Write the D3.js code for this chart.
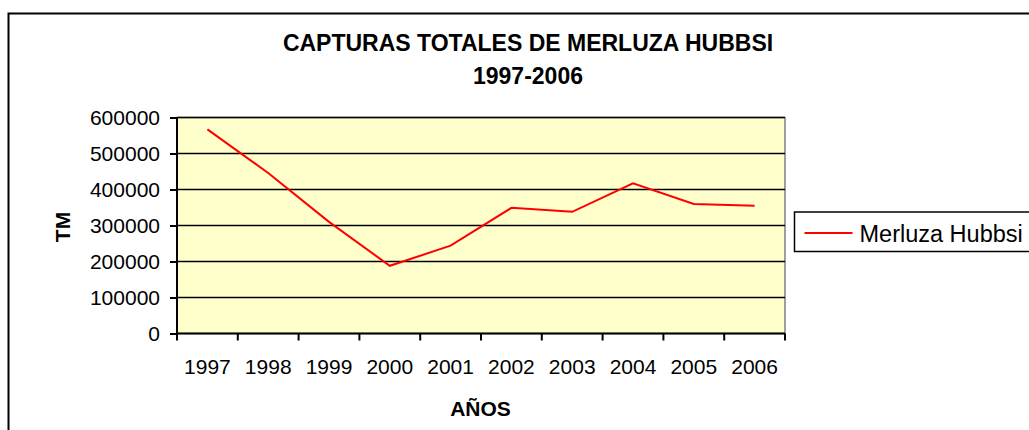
<!DOCTYPE html>
<meta charset="utf-8">
<style>
body { margin: 0; background: #fff; }
text { font-family: "Liberation Sans", Arial, sans-serif; fill: #000; }
.title { font-weight: bold; font-size: 23px; }
.tick text { font-size: 21px; }
.axis-label { font-weight: bold; font-size: 21px; }
.line { fill: none; stroke: #ff0000; stroke-width: 2px; }
</style>
<body>
<svg width="1029" height="430"></svg>
<script src="https://d3js.org/d3.v7.min.js"></script>
<script>

var years = ["1997", "1998", "1999", "2000", "2001", "2002", "2003", "2004", "2005", "2006"];
var capturas = [567000, 446000, 310000, 188000, 244000, 349000, 338000, 417000, 360000, 355000];
var yTicks = [0, 100000, 200000, 300000, 400000, 500000, 600000];
var seriesName = "Merluza Hubbsi";

var svg = d3.select("svg"),
    margin = {top: 117.5, left: 177, right: 244, bottom: 96.5},
    width = 1029 - margin.left - margin.right,
    height = 430 - margin.top - margin.bottom;

// marco exterior
svg.append("rect")
    .attr("x", 8.5).attr("y", 13.5)
    .attr("width", 1040).attr("height", 440)
    .attr("fill", "#fff")
    .attr("stroke", "#000").attr("stroke-width", 2);

var x = d3.scaleBand().domain(years).range([0, width]);
var y = d3.scaleLinear().domain([0, 600000]).range([height, 0]);

var g = svg.append("g")
    .attr("transform", "translate(" + margin.left + "," + margin.top + ")");

g.append("rect")
    .attr("width", width).attr("height", height)
    .attr("fill", "#ffffcc")
    .attr("stroke", "#808080").attr("stroke-width", 1.5);

// lineas de grilla
g.selectAll(".grid")
    .data(yTicks.slice(1))
  .enter().append("line")
    .attr("x1", 0).attr("x2", width)
    .attr("y1", function(d) { return y(d); })
    .attr("y2", function(d) { return y(d); })
    .attr("stroke", "#000").attr("stroke-width", 1.5);

var yAxis = g.append("g")
    .call(d3.axisLeft(y).tickValues(yTicks).tickSize(7).tickPadding(10).tickFormat(d3.format("d")));
yAxis.selectAll("path, line").attr("stroke", "#000").attr("stroke-width", 2);
yAxis.select(".domain").attr("d", "M0,0V" + height);

var xAxis = g.append("g")
    .attr("transform", "translate(0," + height + ")")
    .call(d3.axisBottom(x).tickSize(0).tickPadding(26));
xAxis.selectAll("path").attr("stroke", "#000").attr("stroke-width", 2);
xAxis.select(".domain").attr("d", "M0,0H" + width);

// marcas entre categorias
xAxis.selectAll(".sep")
    .data(years.concat(["end"]))
  .enter().append("line")
    .attr("x1", function(d, i) { return i * x.bandwidth(); })
    .attr("x2", function(d, i) { return i * x.bandwidth(); })
    .attr("y1", 0).attr("y2", 7)
    .attr("stroke", "#000").attr("stroke-width", 2);

var valueline = d3.line()
    .x(function(d, i) { return x(years[i]) + x.bandwidth() / 2; })
    .y(function(d) { return y(d); });

g.append("path")
    .datum(capturas)
    .attr("class", "line")
    .attr("d", valueline);

svg.append("text")
    .attr("class", "title")
    .attr("x", 528).attr("y", 51)
    .attr("text-anchor", "middle")
    .text("CAPTURAS TOTALES DE MERLUZA HUBBSI");

svg.append("text")
    .attr("class", "title")
    .attr("x", 528).attr("y", 84)
    .attr("text-anchor", "middle")
    .text("1997-2006");

svg.append("text")
    .attr("class", "axis-label")
    .attr("transform", "translate(69.5,227) rotate(-90)")
    .attr("text-anchor", "middle")
    .text("TM");

svg.append("text")
    .attr("class", "axis-label")
    .attr("x", 480.5).attr("y", 415.5)
    .attr("text-anchor", "middle")
    .text("AÑOS");

// leyenda
var legend = svg.append("g").attr("transform", "translate(794.5,212)");
legend.append("rect")
    .attr("width", 260).attr("height", 39.5)
    .attr("fill", "#fff")
    .attr("stroke", "#000").attr("stroke-width", 1.5);
legend.append("line")
    .attr("x1", 10).attr("x2", 58)
    .attr("y1", 21).attr("y2", 21)
    .attr("class", "line");
legend.append("text")
    .attr("x", 65).attr("y", 29.5)
    .style("font-size", "23.5px")
    .text(seriesName);

</script>
</body>
